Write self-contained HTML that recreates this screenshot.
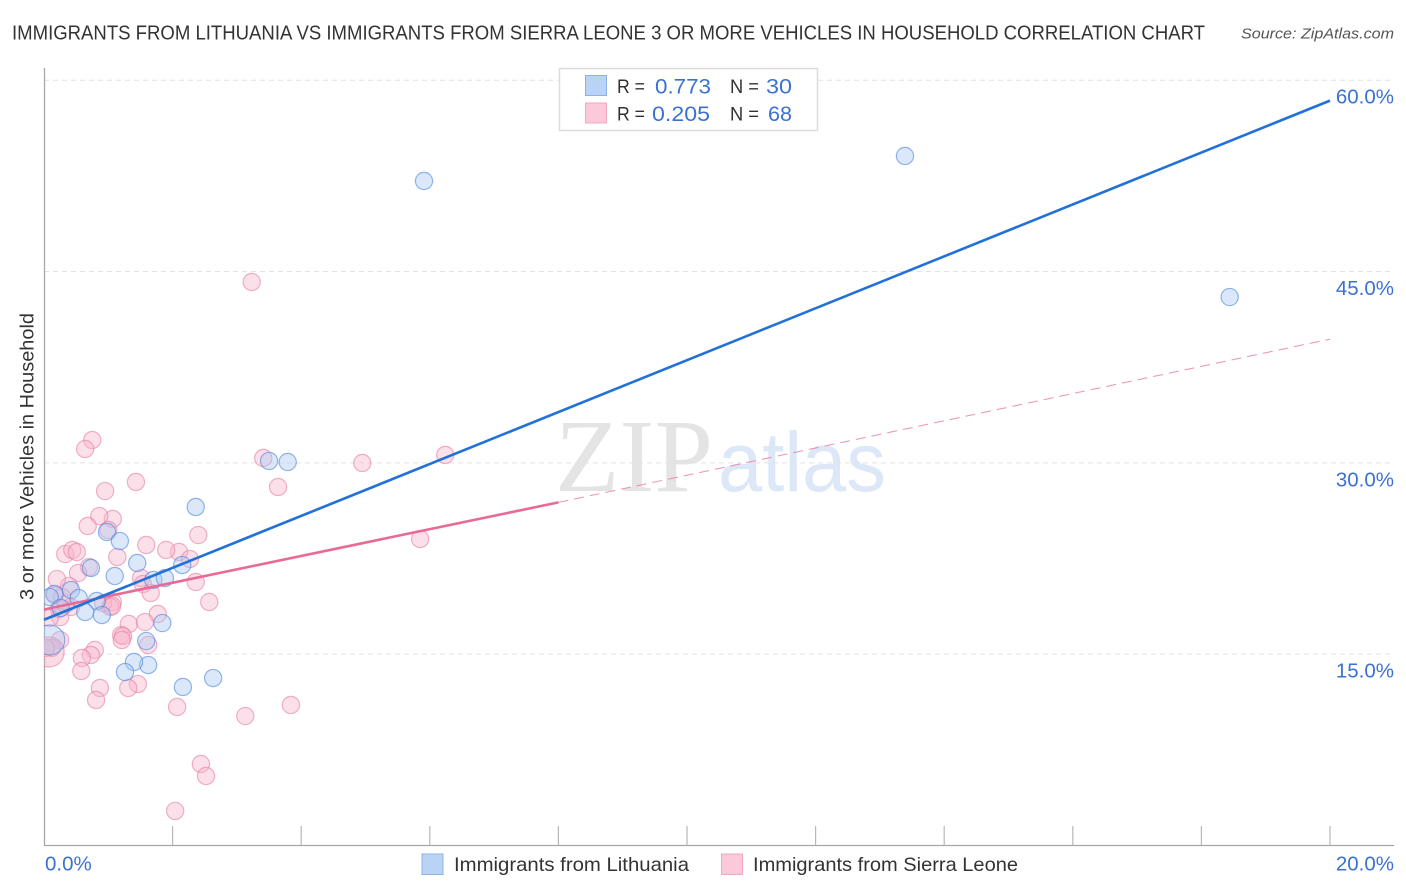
<!DOCTYPE html>
<html><head><meta charset="utf-8"><title>Immigrants correlation chart</title>
<style>
html,body{margin:0;padding:0;background:#fff;width:1406px;height:892px;overflow:hidden}
svg{display:block;font-family:"Liberation Sans",sans-serif}
</style></head>
<body>
<svg id="chart" width="1406" height="892" viewBox="0 0 1406 892" xmlns="http://www.w3.org/2000/svg">
<defs><clipPath id="plot-clip"><rect x="44" y="60" width="1350" height="786"/></clipPath></defs>
<text x="12" y="39.5" font-size="20" fill="#333" textLength="1193" lengthAdjust="spacingAndGlyphs">IMMIGRANTS FROM LITHUANIA VS IMMIGRANTS FROM SIERRA LEONE 3 OR MORE VEHICLES IN HOUSEHOLD CORRELATION CHART</text>
<text x="1241" y="38.5" font-size="15" font-style="italic" fill="#555" textLength="153" lengthAdjust="spacingAndGlyphs">Source: ZipAtlas.com</text>
<g>
<text x="555" y="491" font-family="'Liberation Serif',serif" font-size="104" fill="#e4e4e4" textLength="158" lengthAdjust="spacingAndGlyphs">ZIP</text>
<text x="718" y="491" font-size="84" fill="#dce8f8" textLength="168" lengthAdjust="spacingAndGlyphs">atlas</text>
</g>
<g id="grid"></g>
<g id="axes"></g>
<g id="points" clip-path="url(#plot-clip)"></g>
<g id="trends"></g>
<text transform="translate(33.5,456.5) rotate(-90)" text-anchor="middle" font-size="19.5" fill="#333" textLength="287" lengthAdjust="spacingAndGlyphs">3 or more Vehicles in Household</text>
<g>
<rect x="559.5" y="68.5" width="258" height="62" fill="#fff" stroke="#dcdcdc" stroke-width="1.5"/>
<rect x="585.5" y="75.5" width="21" height="20" fill="#b9d3f7" stroke="#8fb2e6"/>
<rect x="585.5" y="103" width="21" height="20" fill="#fcc8da" stroke="#f0a8c0"/>
<text x="617" y="93" font-size="19.5" fill="#333" textLength="28" lengthAdjust="spacingAndGlyphs">R =</text>
<text x="655" y="93.5" font-size="21" fill="#3b72d2" textLength="56" lengthAdjust="spacingAndGlyphs">0.773</text>
<text x="730" y="93" font-size="19.5" fill="#333" textLength="29" lengthAdjust="spacingAndGlyphs">N =</text>
<text x="766" y="93.5" font-size="21" fill="#3b72d2" textLength="26" lengthAdjust="spacingAndGlyphs">30</text>
<text x="617" y="120.5" font-size="19.5" fill="#333" textLength="28" lengthAdjust="spacingAndGlyphs">R =</text>
<text x="652" y="121" font-size="21" fill="#3b72d2" textLength="58" lengthAdjust="spacingAndGlyphs">0.205</text>
<text x="730" y="120.5" font-size="19.5" fill="#333" textLength="29" lengthAdjust="spacingAndGlyphs">N =</text>
<text x="768" y="121" font-size="21" fill="#3b72d2" textLength="24" lengthAdjust="spacingAndGlyphs">68</text>
</g>
<g>
<rect x="422" y="854" width="21" height="20.5" fill="#b9d3f7" stroke="#8fb2e6"/>
<text x="454" y="871" font-size="19.5" fill="#333" textLength="235" lengthAdjust="spacingAndGlyphs">Immigrants from Lithuania</text>
<rect x="721.5" y="854" width="21" height="20.5" fill="#fcc8da" stroke="#f0a8c0"/>
<text x="753" y="871" font-size="19.5" fill="#333" textLength="265" lengthAdjust="spacingAndGlyphs">Immigrants from Sierra Leone</text>
</g>
</svg>
<script>
const yTickValues = [15, 30, 45, 60];
const yTickLabels = ['15.0%', '30.0%', '45.0%', '60.0%'];
const xTickValues = [2, 4, 6, 8, 10, 12, 14, 16, 18, 20];
const xEndValues = [0, 20];
const xEndLabels = ['0.0%', '20.0%'];
const lithuaniaX = [5.91,13.39,18.44,2.36,3.50,3.79,0.98,1.18,1.45,0.73,1.10,1.70,1.88,2.15,0.16,0.42,0.54,0.82,0.64,0.90,1.84,1.59,1.62,1.40,1.26,2.16,2.63,0.09,0.26];
const lithuaniaY = [52.10,54.06,43.00,26.54,30.15,30.07,24.58,23.87,22.15,21.76,21.13,20.82,20.97,21.99,19.72,20.03,19.40,19.17,18.31,18.07,17.44,16.03,14.15,14.39,13.60,12.43,13.13,19.48,18.62];
const lithuaniaLargeX = [0.09];
const lithuaniaLargeY = [16.11];
const sierraX = [3.23,0.75,0.64,1.43,0.95,3.64,3.41,4.95,6.24,1.07,0.86,0.68,1.00,2.40,5.85,1.59,0.33,0.44,0.51,1.14,2.10,1.90,2.27,0.70,0.53,1.51,2.36,0.39,0.20,1.54,1.66,0.17,2.57,1.07,0.92,1.03,0.42,0.23,0.25,1.77,1.32,1.57,1.20,1.23,1.21,1.62,0.79,0.73,0.59,0.25,0.12,0.58,0.87,1.46,1.31,0.81,2.07,3.84,3.13,2.44,2.52,2.04,0.03,1.06,0.09,0.34,0.28];
const sierraY = [44.18,31.79,31.09,28.50,27.79,28.11,30.38,29.99,30.62,25.60,25.83,25.05,24.74,24.34,24.03,23.56,22.85,23.17,23.01,22.62,23.01,23.17,22.46,21.83,21.36,20.97,20.66,20.35,20.89,20.50,19.80,19.64,19.09,19.09,19.01,18.70,18.70,18.54,17.91,18.15,17.37,17.52,16.50,16.42,16.11,15.72,15.33,14.94,14.70,16.11,15.49,13.68,12.35,12.66,12.35,11.41,10.86,11.02,10.15,6.39,5.45,2.71,15.49,18.78,17.84,18.93,19.48];
const sierraLargeX = [0.08];
const sierraLargeY = [15.17];
const lithuaniaTrendX = [0, 20];
const lithuaniaTrendY = [17.70, 58.40];
const sierraTrendSolidX = [0, 8];
const sierraTrendSolidY = [18.50, 26.90];
const sierraTrendDashX = [8, 20];
const sierraTrendDashY = [26.90, 39.70];

const NS = 'http://www.w3.org/2000/svg';
function sx(v) { return 44 + v * 64.3; }
function sy(v) { return 845.5 - v * 12.755; }
function make(tag, parentId, attrs, text) {
  const el = document.createElementNS(NS, tag);
  for (const k in attrs) el.setAttribute(k, attrs[k]);
  if (text !== undefined) el.textContent = text;
  document.getElementById(parentId).appendChild(el);
  return el;
}
yTickValues.forEach(function (v, i) {
  const line = make('line', 'grid', {x1: 44, x2: 1394, y1: sy(v), y2: sy(v), stroke: '#e2e2e2', 'stroke-width': 1, 'stroke-dasharray': '5 4'});
  
  
  const label = make('text', 'axes', {x: 1394, y: sy(v) + 23.5, 'text-anchor': 'end', 'font-size': 20.5, fill: '#3b72d2'}, yTickLabels[i]);
  
  
});
const yAxis = make('line', 'axes', {x1: 44.5, x2: 44.5, y1: 68, y2: 846, stroke: '#a8a8a8', 'stroke-width': 1.3});


const xAxis = make('line', 'axes', {x1: 44, x2: 1394, y1: 845.5, y2: 845.5, stroke: '#a8a8a8', 'stroke-width': 1.3});


xTickValues.forEach(function (v) {
  const tick = make('line', 'axes', {x1: sx(v), x2: sx(v), y1: 826, y2: 845, stroke: '#b8b8b8', 'stroke-width': 1.2});
  
  
});
xEndValues.forEach(function (v, i) {
  const anchor = i === 0 ? 'start' : 'end';
  const px = i === 0 ? sx(v) + 1 : sx(v) + 64;
  const label = make('text', 'axes', {x: px, y: 870.5, 'text-anchor': anchor, 'font-size': 20.5, fill: '#3b72d2'}, xEndLabels[i]);
  
  
});
function drawPoints(xs, ys, r, fill, stroke, name) {
  xs.forEach(function (x, i) {
    const c = make('circle', 'points', {cx: sx(x), cy: sy(ys[i]), r: r, fill: fill, 'fill-opacity': 0.42, stroke: stroke, 'stroke-opacity': 0.6, 'stroke-width': 1.2});
    
    
  });
}
drawPoints(sierraX, sierraY, 8.6, '#f9b4cb', '#e67fa2', 'point-sierra-leone');
drawPoints(sierraLargeX, sierraLargeY, 15, '#f2a6c0', '#e67fa2', 'point-sierra-leone-large');
drawPoints(lithuaniaX, lithuaniaY, 8.6, '#a9c8f4', '#4f86dc', 'point-lithuania');
drawPoints(lithuaniaLargeX, lithuaniaLargeY, 15, '#a9c8f4', '#4f86dc', 'point-lithuania-large');
const tSierraDash = make('line', 'trends', {x1: sx(sierraTrendDashX[0]), y1: sy(sierraTrendDashY[0]), x2: sx(sierraTrendDashX[1]), y2: sy(sierraTrendDashY[1]), stroke: '#e8779f', 'stroke-width': 1, 'stroke-dasharray': '10 6', 'stroke-opacity': 0.8});


const tSierra = make('line', 'trends', {x1: sx(sierraTrendSolidX[0]), y1: sy(sierraTrendSolidY[0]), x2: sx(sierraTrendSolidX[1]), y2: sy(sierraTrendSolidY[1]), stroke: '#ea6a97', 'stroke-width': 2.6});


const tLith = make('line', 'trends', {x1: sx(lithuaniaTrendX[0]), y1: sy(lithuaniaTrendY[0]), x2: sx(lithuaniaTrendX[1]), y2: sy(lithuaniaTrendY[1]), stroke: '#2271d8', 'stroke-width': 2.6});


</script>
</body></html>
